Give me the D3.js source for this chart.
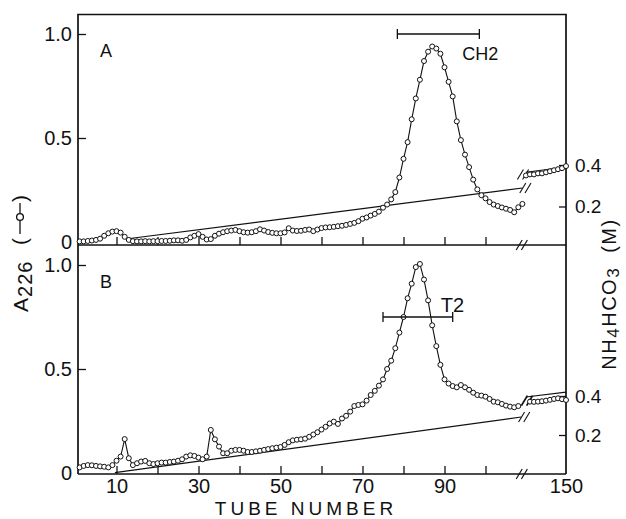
<!DOCTYPE html>
<html>
<head>
<meta charset="utf-8">
<script src="https://cdn.jsdelivr.net/npm/d3@7"></script>
<style>
  body { margin: 0; background: #fff; }
  svg { display: block; }
  text { font-family: "Liberation Sans", Arial, sans-serif; fill: #111; }
</style>
</head>
<body>
<svg id="chart" width="626" height="519"></svg>
<script>
// ---- Data -------------------------------------------------------------
// Panel A: absorbance at 226 nm, tubes 1-109, then tubes 140-150
const tubesA = d3.range(1, 110);
const absA = [
  0.003, 0.003, 0.005, 0.007, 0.010, 0.016, 0.030, 0.042, 0.050, 0.052,
  0.045, 0.025, 0.010, 0.004, 0.003, 0.003, 0.004, 0.003, 0.004, 0.004,
  0.005, 0.005, 0.006, 0.008, 0.008, 0.006, 0.010, 0.022, 0.030, 0.038,
  0.025, 0.012, 0.014, 0.030, 0.040, 0.047, 0.052, 0.055, 0.058, 0.052,
  0.047, 0.045, 0.047, 0.052, 0.061, 0.055, 0.048, 0.044, 0.042, 0.042,
  0.046, 0.066, 0.055, 0.053, 0.054, 0.058, 0.060, 0.052, 0.060, 0.067,
  0.070, 0.071, 0.073, 0.076, 0.078, 0.082, 0.087, 0.092, 0.100, 0.112,
  0.118, 0.127, 0.135, 0.146, 0.165, 0.180, 0.205, 0.240, 0.310, 0.400,
  0.480, 0.590, 0.690, 0.780, 0.870, 0.915, 0.940, 0.930, 0.905, 0.840,
  0.770, 0.700, 0.580, 0.490, 0.420, 0.360, 0.300, 0.253, 0.225, 0.210,
  0.192, 0.180, 0.173, 0.166, 0.160, 0.154, 0.143, 0.167, 0.183
];
const tubesA2 = d3.range(140, 151);
const absA2 = [0.320, 0.325, 0.325, 0.330, 0.330, 0.335, 0.340, 0.345, 0.350, 0.355, 0.365];

// Panel B: absorbance at 226 nm, tubes 1-108, then tubes 141-150
const tubesB = d3.range(1, 109);
const absB = [
  0.027, 0.034, 0.038, 0.037, 0.034, 0.032, 0.030, 0.027, 0.038, 0.059,
  0.079, 0.163, 0.071, 0.038, 0.047, 0.055, 0.058, 0.047, 0.043, 0.047,
  0.050, 0.050, 0.053, 0.055, 0.059, 0.066, 0.079, 0.085, 0.082, 0.074,
  0.066, 0.079, 0.207, 0.162, 0.127, 0.095, 0.095, 0.107, 0.111, 0.111,
  0.107, 0.101, 0.101, 0.104, 0.107, 0.111, 0.115, 0.119, 0.122, 0.125,
  0.135, 0.148, 0.157, 0.160, 0.162, 0.165, 0.174, 0.185, 0.196, 0.209,
  0.222, 0.238, 0.247, 0.236, 0.262, 0.275, 0.295, 0.322, 0.327, 0.330,
  0.348, 0.375, 0.395, 0.420, 0.450, 0.500, 0.540, 0.600, 0.675, 0.750,
  0.840, 0.910, 0.990, 1.005, 0.930, 0.830, 0.710, 0.610, 0.520, 0.450,
  0.430, 0.418, 0.412, 0.423, 0.412, 0.400, 0.386, 0.375, 0.372, 0.367,
  0.356, 0.343, 0.340, 0.332, 0.324, 0.319, 0.316, 0.322
];
const tubesB2 = d3.range(141, 151);
const absB2 = [0.343, 0.342, 0.343, 0.345, 0.348, 0.352, 0.356, 0.359, 0.355, 0.351];

// NH4HCO3 gradient (M): start/end tube of each drawn stretch
const gradTubesA = [12.3, 109];   const gradMolA = [0.043, 0.289];
const gradTubesA2 = [140, 150];   const gradMolA2 = [0.365, 0.390];
const gradTubesB = [9.6, 108.7];  const gradMolB = [0.007, 0.292];
const gradTubesB2 = [140, 150];   const gradMolB2 = [0.395, 0.420];

// Pooled fractions
const poolA = [78.5, 98.5]; const poolNameA = "CH2";
const poolB = [75, 92];     const poolNameB = "T2";

// Axis ticks
const xTicks = [10, 20, 30, 40, 50, 60, 70, 80, 90, 100];
const xTickLabels = [10, 30, 50, 70, 90];
const xTicksRight = [150];
const absTicks = [0, 0.5, 1.0];
const molTicks = [0.2, 0.4];

// ---- Layout -----------------------------------------------------------
const svg = d3.select("#chart");
const INK = "#111";
const X_LEFT = 78, X_RIGHT = 566, Y_TOP = 14.5;

const xL = d3.scaleLinear().domain([0, 100]).range([75.5, 485.5]);
const xR = d3.scaleLinear().domain([140, 150]).range([526, 566]);
const xt = t => (t >= 130 ? xR(t) : xL(t));

const panels = [
  {
    name: "A", base: 245,
    y: d3.scaleLinear().domain([0, 1]).range([242, 34]),
    m: d3.scaleLinear().domain([0.2, 0.4]).range([206.5, 165]),
    seg1: tubesA.map((t, i) => ({ t, v: absA[i] })),
    seg2: tubesA2.map((t, i) => ({ t, v: absA2[i] })),
    grad1: gradTubesA.map((t, i) => ({ t, v: gradMolA[i] })),
    grad2: gradTubesA2.map((t, i) => ({ t, v: gradMolA2[i] })),
    pool: poolA, poolName: poolNameA, poolLevel: 1.0,
    labelled: false
  },
  {
    name: "B", base: 474,
    y: d3.scaleLinear().domain([0, 1]).range([473, 265]),
    m: d3.scaleLinear().domain([0.2, 0.4]).range([435, 396]),
    seg1: tubesB.map((t, i) => ({ t, v: absB[i] })),
    seg2: tubesB2.map((t, i) => ({ t, v: absB2[i] })),
    grad1: gradTubesB.map((t, i) => ({ t, v: gradMolB[i] })),
    grad2: gradTubesB2.map((t, i) => ({ t, v: gradMolB2[i] })),
    pool: poolB, poolName: poolNameB, poolLevel: 0.75,
    labelled: true
  }
];

// two short slanted strokes marking an axis/curve break
function breakMark(g, cx, cy, width) {
  [-2.6, 2.6].forEach(dx => {
    g.append("line")
      .attr("x1", cx + dx - 3).attr("y1", cy + 5)
      .attr("x2", cx + dx + 3).attr("y2", cy - 5)
      .attr("stroke", INK).attr("stroke-width", width || 1.2);
  });
}

function styleAxis(g, size) {
  g.select(".domain").remove();
  g.selectAll(".tick line").attr("stroke", INK).attr("stroke-width", 1.3);
  g.selectAll(".tick text").attr("fill", INK)
    .style("font-family", '"Liberation Sans", Arial, sans-serif')
    .style("font-size", size + "px");
}

// outer frame
svg.append("path")
  .attr("d", `M${X_LEFT},${panels[1].base}V${Y_TOP}H${X_RIGHT}V${panels[1].base}`)
  .attr("fill", "none").attr("stroke", INK).attr("stroke-width", 1.7);

panels.forEach(p => {
  const g = svg.append("g");

  // baseline axis of the panel
  g.append("line")
    .attr("x1", X_LEFT).attr("x2", X_RIGHT)
    .attr("y1", p.base).attr("y2", p.base)
    .attr("stroke", INK).attr("stroke-width", 1.7);

  // tube-number ticks (inside)
  const bx = g.append("g").attr("transform", `translate(0,${p.base})`)
    .call(d3.axisBottom(xL).tickValues(xTicks).tickSize(-8).tickPadding(5)
      .tickFormat(d => (p.labelled && xTickLabels.includes(d)) ? d : ""));
  styleAxis(bx, 20);
  if (p.labelled) {
    const bx2 = g.append("g").attr("transform", `translate(0,${p.base})`)
      .call(d3.axisBottom(xR).tickValues(xTicksRight).tickSize(0).tickPadding(5));
    styleAxis(bx2, 20);
  }
  breakMark(g, (xL(108.8) + xR(140)) / 2 - 2, p.base, 1.2);

  // absorbance axis (left)
  const ly = g.append("g").attr("transform", `translate(${X_LEFT},0)`)
    .call(d3.axisLeft(p.y).tickValues(absTicks).tickSize(-8).tickPadding(6)
      .tickFormat(d => (d === 0 ? "0" : d3.format(".1f")(d))));
  styleAxis(ly, 20);
  ly.selectAll(".tick").filter(d => d === 0).select("line").remove();

  // molarity axis (right)
  const ry = g.append("g").attr("transform", `translate(${X_RIGHT},0)`)
    .call(d3.axisRight(p.m).tickValues(molTicks).tickSize(-7).tickPadding(9)
      .tickFormat(d3.format(".1f")));
  styleAxis(ry, 19);

  // gradient line
  const gl = d3.line().x(d => xt(d.t)).y(d => p.m(d.v));
  [p.grad1, p.grad2].forEach(seg => {
    g.append("path").attr("d", gl(seg))
      .attr("fill", "none").attr("stroke", INK).attr("stroke-width", 1.1);
  });
  const gEnd = p.grad1[p.grad1.length - 1];
  breakMark(g, xt(gEnd.t) + 3, p.m(gEnd.v), 1.1);

  // absorbance curve
  const line = d3.line().x(d => xt(d.t)).y(d => p.y(d.v));
  [p.seg1, p.seg2].forEach(seg => {
    g.append("path").attr("d", line(seg))
      .attr("fill", "none").attr("stroke", INK).attr("stroke-width", 1.1);
  });
  const first2 = p.seg2[0];
  breakMark(g, xt(first2.t) - 3, p.y(first2.v) - 1, p.name === "B" ? 1.8 : 1.1);

  [p.seg1, p.seg2].forEach(seg => {
    g.append("g").selectAll("circle").data(seg).join("circle")
      .attr("cx", d => xt(d.t)).attr("cy", d => p.y(d.v)).attr("r", 2.5)
      .attr("fill", "#fff").attr("stroke", INK).attr("stroke-width", 1);
  });

  // pooled-fraction bracket
  const by = p.y(p.poolLevel);
  const bx0 = xL(p.pool[0]), bx1 = xL(p.pool[1]);
  g.append("path")
    .attr("d", `M${bx0},${by - 5}V${by + 5}M${bx0},${by}H${bx1}M${bx1},${by - 5}V${by + 5}`)
    .attr("fill", "none").attr("stroke", INK).attr("stroke-width", 1.3);
  if (p.name === "A") {
    g.append("text").attr("x", bx1 - 17).attr("y", by + 26)
      .style("font-size", "18px").text(p.poolName);
  } else {
    g.append("text").attr("x", bx1 - 12).attr("y", by - 5)
      .style("font-size", "20px").text(p.poolName);
  }

  // panel letter
  g.append("text").attr("x", 100).attr("y", p.y(1.0) + 23)
    .style("font-size", "18px").text(p.name);
});

// x-axis title
svg.append("text").attr("x", 306).attr("y", 515).attr("text-anchor", "middle")
  .style("font-size", "19px").style("letter-spacing", "4px").text("TUBE NUMBER");

// left title: A226 (-o-)
const lt = svg.append("g").attr("transform", "translate(28,312) rotate(-90)");
const ltText = lt.append("text").attr("x", 0).attr("y", 0)
  .style("font-size", "21px").style("letter-spacing", "1px");
ltText.append("tspan").text("A");
ltText.append("tspan").attr("dy", 4).style("font-size", "20px").text("226");
lt.append("text").attr("x", 67).attr("y", -1).style("font-size", "21px").text("(");
lt.append("line").attr("x1", 78).attr("x2", 109).attr("y1", -8).attr("y2", -8)
  .attr("stroke", INK).attr("stroke-width", 1.3);
lt.append("circle").attr("cx", 95).attr("cy", -8).attr("r", 3.4)
  .attr("fill", "#fff").attr("stroke", INK).attr("stroke-width", 1.3);
lt.append("text").attr("x", 110).attr("y", -1).style("font-size", "21px").text(")");

// right title: NH4HCO3 (M)
const rt = svg.append("g").attr("transform", "translate(616,294) rotate(-90)");
const rtText = rt.append("text").attr("x", 0).attr("y", 0).attr("text-anchor", "middle")
  .style("font-size", "20px").style("letter-spacing", "1.5px");
rtText.append("tspan").text("NH");
rtText.append("tspan").attr("dy", 3).style("font-size", "17px").text("4");
rtText.append("tspan").attr("dy", -3).text("HCO");
rtText.append("tspan").attr("dy", 3).style("font-size", "17px").text("3");
rtText.append("tspan").attr("dy", -3).attr("dx", 14).text("(M)");
</script>
</body>
</html>
